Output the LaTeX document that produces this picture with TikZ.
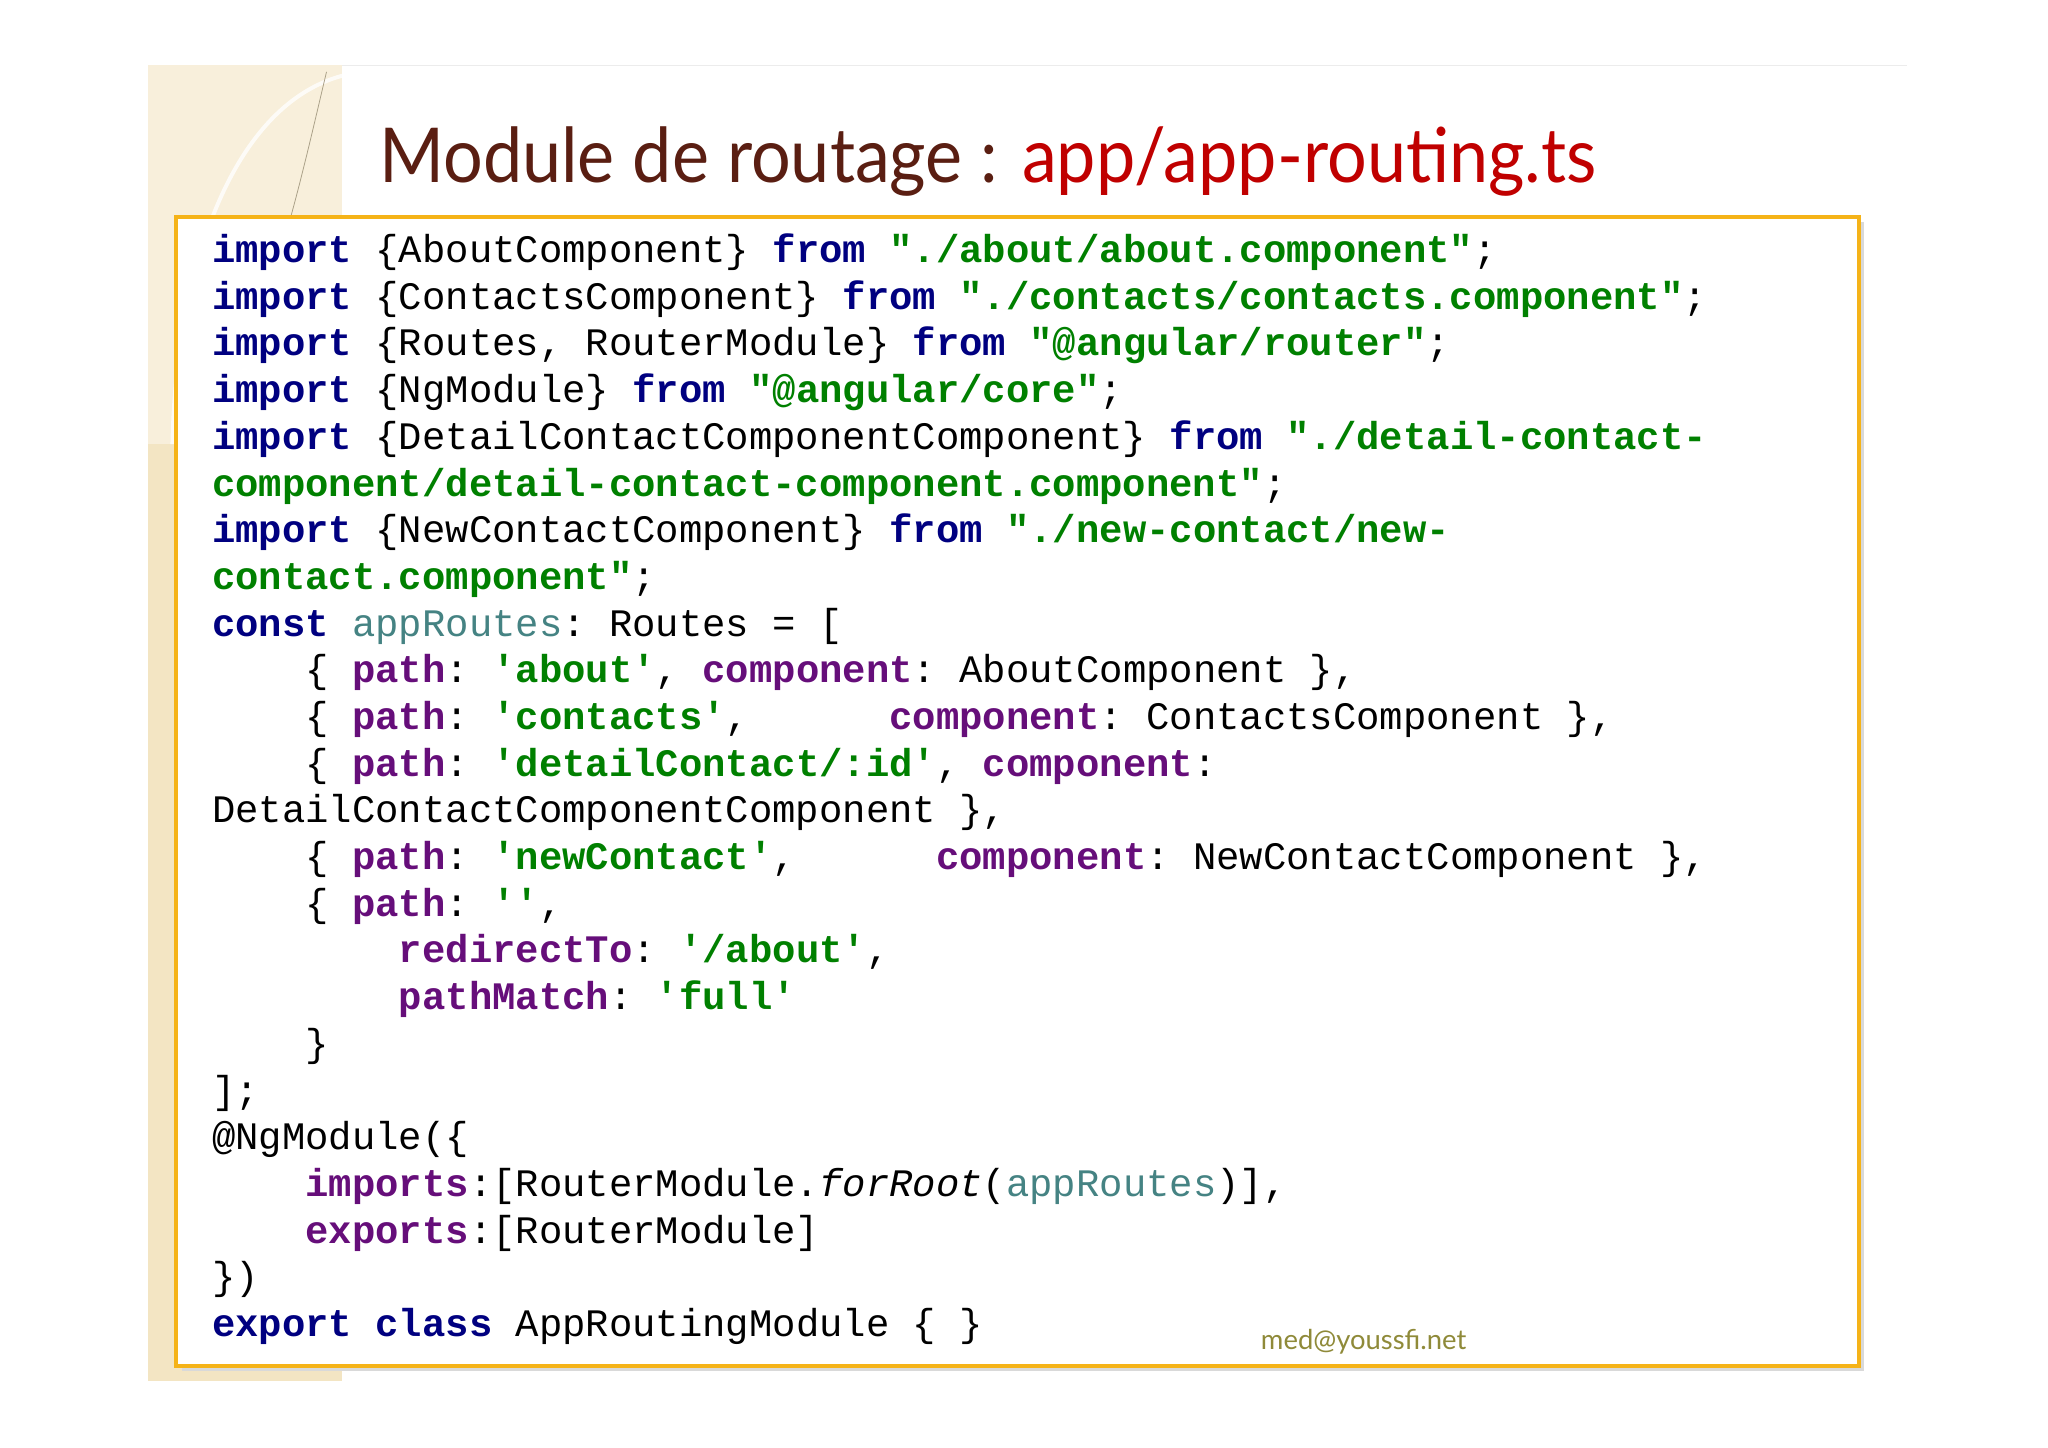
\documentclass[tikz,border=0pt]{standalone}
\usepackage{fontspec}
\setmonofont{Liberation Mono}
\setsansfont{Lato}
\definecolor{kw}{HTML}{000080}
\definecolor{st}{HTML}{008000}
\definecolor{pu}{HTML}{660E7A}
\definecolor{te}{HTML}{458383}
\definecolor{brn}{HTML}{5A1E12}
\definecolor{rd}{HTML}{C00000}
\definecolor{org}{HTML}{F5B318}
\definecolor{beige}{HTML}{F3E5C3}
\newcommand{\K}[1]{\textcolor{kw}{\bfseries #1}}
\newcommand{\Sg}[1]{\textcolor{st}{\bfseries #1}}
\newcommand{\Pu}[1]{\textcolor{pu}{\bfseries #1}}
\newcommand{\Te}[1]{\textcolor{te}{#1}}
\begin{document}
\begin{tikzpicture}[x=0.5pt,y=-0.5pt,
  code/.style={anchor=base west,inner sep=0pt,font=\ttfamily\fontsize{14.9}{18}\selectfont}]
\useasboundingbox (0,0) rectangle (1568,1108);
\fill[white] (0,0) rectangle (1568,1108);
% beige panel
\fill[beige] (113,50) rectangle (262,1057);
\fill[beige!60!white] (113,50) rectangle (262,340);
\draw[white,line width=1.5pt,opacity=0.8] (262,58) .. controls (180,80) and (135,200) .. (132,340);
\draw[beige!70!black,line width=0.3pt] (250,55) .. controls (225,160) and (200,280) .. (140,335);
\draw[gray!15,line width=0.4pt] (262,50) -- (1460,50);
% title
\node[anchor=base west,inner sep=0pt,font=\sffamily\fontsize{29}{34}\selectfont] (title) at (290,140)
  {\scalebox{0.925}[1]{\textcolor{brn}{Module de routage :} \textcolor{rd}{app/app-routing.ts}}};
% box
\fill[gray!30] (139,170) rectangle (1427,1050);
\draw[org,line width=1.6pt,fill=white] (135,166) rectangle (1423,1046);
% code
\foreach \i/\t in {
0/{\K{import} \{AboutComponent\} \K{from} \Sg{"./about/about.component"};},
1/{\K{import} \{ContactsComponent\} \K{from} \Sg{"./contacts/contacts.component"};},
2/{\K{import} \{Routes, RouterModule\} \K{from} \Sg{"@angular/router"};},
3/{\K{import} \{NgModule\} \K{from} \Sg{"@angular/core"};},
4/{\K{import} \{DetailContactComponentComponent\} \K{from} \Sg{"./detail-contact-}},
5/{\Sg{component/detail-contact-component.component"};},
6/{\K{import} \{NewContactComponent\} \K{from} \Sg{"./new-contact/new-}},
7/{\Sg{contact.component"};},
8/{\K{const} \Te{appRoutes}: Routes = [},
9/{\ \ \ \ \{ \Pu{path}: \Sg{'about'}, \Pu{component}: AboutComponent \},},
10/{\ \ \ \ \{ \Pu{path}: \Sg{'contacts'},\ \ \ \ \ \ \Pu{component}: ContactsComponent \},},
11/{\ \ \ \ \{ \Pu{path}: \Sg{'detailContact/:id'}, \Pu{component}:},
12/{DetailContactComponentComponent \},},
13/{\ \ \ \ \{ \Pu{path}: \Sg{'newContact'},\ \ \ \ \ \ \Pu{component}: NewContactComponent \},},
14/{\ \ \ \ \{ \Pu{path}: \Sg{''},},
15/{\ \ \ \ \ \ \ \ \Pu{redirectTo}: \Sg{'/about'},},
16/{\ \ \ \ \ \ \ \ \Pu{pathMatch}: \Sg{'full'}},
17/{\ \ \ \ \}},
18/{];},
19/{@NgModule(\{},
20/{\ \ \ \ \Pu{imports}:[RouterModule.\textit{forRoot}(\Te{appRoutes})],},
21/{\ \ \ \ \Pu{exports}:[RouterModule]},
22/{\})},
23/{\K{export} \K{class} AppRoutingModule \{ \}}}
  \node[code] (l\i) at (162,{201+35.75*\i}) {\t};
% footer
\node[anchor=base west,inner sep=0pt,font=\sffamily\fontsize{10.5}{12}\selectfont,text=olive!60!gray] (foot) at (965,1033) {med@youssfi.net};
\end{tikzpicture}
\end{document}
